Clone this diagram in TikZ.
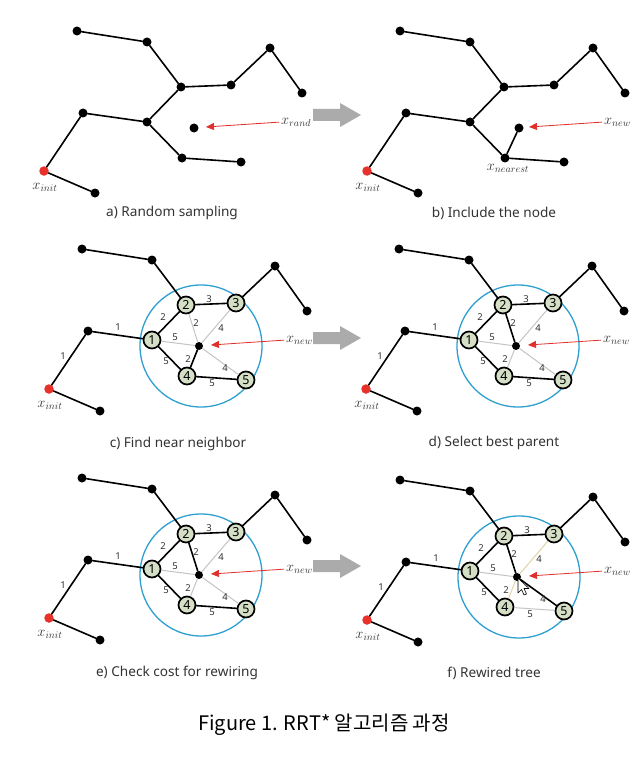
\documentclass[tikz,border=0pt]{standalone}
\usepackage{fontspec}
\setmainfont{Noto Sans}
\newfontfamily\krfont{Noto Sans CJK KR}
\usetikzlibrary{arrows.meta}
\definecolor{nodefill}{HTML}{D5DFC6}
\definecolor{rangeblue}{HTML}{2E9FD0}
\definecolor{arrowred}{HTML}{E0302C}
\definecolor{initred}{HTML}{E8312A}
\definecolor{lightedge}{HTML}{C4C4C4}
\definecolor{tanedge}{HTML}{E2D3A6}
\definecolor{bigarrow}{HTML}{ABABAB}
\definecolor{txtgray}{HTML}{333333}
\tikzset{
 dot/.style={circle,fill=black,inner sep=0pt,minimum size=9pt},
 newdot/.style={circle,fill=black,inner sep=0pt,minimum size=8pt},
 initdot/.style={circle,fill=initred,inner sep=0pt,minimum size=9.5pt},
 num/.style={circle,draw=black,line width=1.7pt,fill=nodefill,inner sep=0pt,minimum size=17pt,font=\bfseries\fontsize{12.5}{12.5}\selectfont},
 tedge/.style={line width=1.6pt,line cap=round},
 gedge/.style={line width=1pt,draw=lightedge},
 yedge/.style={line width=1pt,draw=tanedge},
 wlab/.style={inner sep=0pt,text=txtgray,font=\fontsize{9.5}{9.5}\selectfont},
 mlab/.style={inner sep=0pt,text=txtgray,font=\fontsize{14.5}{14.5}\selectfont},
 panelcap/.style={inner sep=0pt,text=txtgray,font=\fontsize{13.6}{13.6}\selectfont},
 redarrow/.style={draw=arrowred,line width=0.8pt,shorten <=2pt,-{Triangle[length=8pt,width=7pt]}},
 rangecirc/.style={circle,draw=rangeblue,line width=1.3pt,inner sep=0pt,minimum size=122pt},
 bigarr/.style={fill=bigarrow},
}
% leaves common to all panels
\newcommand\leafnodes[1]{%
 \node[dot] (#1t1) at (77,31) {};
 \node[dot] (#1t2) at (147,42) {};
 \node[dot] (#1t5) at (270,48) {};
 \node[dot] (#1t6) at (302,93) {};
 \node[dot] (#1t8) at (83,113) {};
 \node[initdot] (#1init) at (44,171) {};
 \node[dot] (#1t10) at (95,193) {};
 \node[mlab] (#1xi) at (45,187) {$x_{init}$};
}
\newcommand\plainjunctions[1]{%
 \node[dot] (#1j1) at (147,122) {};
 \node[dot] (#1j2) at (181,87) {};
 \node[dot] (#1n3) at (231,85) {};
 \node[dot] (#1n4) at (182,158) {};
 \node[dot] (#1n5) at (241,162) {};
}
\newcommand\numjunctions[1]{%
 \node[rangecirc] (#1rg) at (196,128) {};
 \node[num] (#1j1) at (147,122) {1};
 \node[num] (#1j2) at (181,87) {2};
 \node[num] (#1n3) at (231,85) {3};
 \node[num] (#1n4) at (182,158) {4};
 \node[num] (#1n5) at (241,162) {5};
}
\newcommand\treeedges[1]{%
 \draw[tedge] (#1t1) -- (#1t2);
 \draw[tedge] (#1t2) -- (#1j2);
 \draw[tedge] (#1j2) -- (#1n3);
 \draw[tedge] (#1n3) -- (#1t5);
 \draw[tedge] (#1t5) -- (#1t6);
 \draw[tedge] (#1j1) -- (#1j2);
 \draw[tedge] (#1t8) -- (#1j1);
 \draw[tedge] (#1init) -- (#1t8);
 \draw[tedge] (#1init) -- (#1t10);
 \draw[tedge] (#1j1) -- (#1n4);
}
\newcommand\weights[1]{%
 \node[wlab] (#1w1) at (113,109) {1};
 \node[wlab] (#1w2) at (58,138) {1};
 \node[wlab] (#1w3) at (158,99) {2};
 \node[wlab] (#1w4) at (204,81) {3};
 \node[wlab] (#1w5) at (191,105) {2};
 \node[wlab] (#1w6) at (216,110) {4};
 \node[wlab] (#1w7) at (170,119) {5};
 \node[wlab] (#1w8) at (183,141) {2};
 \node[wlab] (#1w9) at (220,150) {4};
 \node[wlab] (#1w10) at (161,143) {5};
 \node[wlab] (#1w11) at (207,165) {5};
}
\newcommand\pointer[2]{%
 \node[mlab,anchor=west] (#1xl) at (281,122) {#2};
 \coordinate (#1tip) at (206,127);
 \draw[redarrow] (#1xl.west) -- (#1tip);
}
\begin{document}
\begin{tikzpicture}[x=1pt,y=-1pt]
\useasboundingbox (0,0) rectangle (644,765);
\fill[white] (0,0) rectangle (644,765);

% ---------- a) ----------
\begin{scope}
 \leafnodes{a}
 \plainjunctions{a}
 \treeedges{a}
 \draw[tedge] (an4) -- (an5);
 \node[dot] (arand) at (194,128) {};
 \pointer{a}{$x_{rand}$}
\end{scope}
\node[panelcap] (capa) at (172,213) {a) Random sampling};

% ---------- b) ----------
\begin{scope}[shift={(323,0)}]
 \leafnodes{b}
 \plainjunctions{b}
 \treeedges{b}
 \draw[tedge] (bn4) -- (bn5);
 \node[dot] (bnew) at (196,128) {};
 \draw[tedge] (bn4) -- (bnew);
 \node[mlab] (bxn) at (185,168) {$x_{nearest}$};
 \pointer{b}{$x_{new}$}
\end{scope}
\node[panelcap] (capb) at (494,213) {b) Include the node};

% ---------- c) ----------
\begin{scope}[shift={(5,218)}]
 \numjunctions{c}
 \leafnodes{c}
 \node[newdot] (cnew) at (194,128) {};
 \draw[gedge] (cj1) -- (cnew);
 \draw[gedge] (cj2) -- (cnew);
 \draw[gedge] (cn3) -- (cnew);
 \draw[gedge] (cn5) -- (cnew);
 \draw[tedge] (cn4) -- (cnew);
 \treeedges{c}
 \draw[tedge] (cn4) -- (cn5);
 \weights{c}
 \pointer{c}{$x_{new}$}
\end{scope}
\node[panelcap] (capc) at (178,444) {c) Find near neighbor};

% ---------- d) ----------
\begin{scope}[shift={(322,218)}]
 \numjunctions{d}
 \leafnodes{d}
 \node[newdot] (dnew) at (194,128) {};
 \draw[gedge] (dj1) -- (dnew);
 \draw[gedge] (dn4) -- (dnew);
 \draw[gedge] (dn3) -- (dnew);
 \draw[gedge] (dn5) -- (dnew);
 \draw[tedge] (dj2) -- (dnew);
 \treeedges{d}
 \draw[tedge] (dn4) -- (dn5);
 \weights{d}
 \pointer{d}{$x_{new}$}
\end{scope}
\node[panelcap] (capd) at (494,443) {d) Select best parent};

% ---------- e) ----------
\begin{scope}[shift={(5,447)}]
 \numjunctions{e}
 \leafnodes{e}
 \node[newdot] (enew) at (194,128) {};
 \draw[gedge] (ej1) -- (enew);
 \draw[gedge] (en4) -- (enew);
 \draw[gedge] (en3) -- (enew);
 \draw[gedge] (en5) -- (enew);
 \draw[tedge] (ej2) -- (enew);
 \treeedges{e}
 \draw[tedge] (en4) -- (en5);
 \weights{e}
 \pointer{e}{$x_{new}$}
\end{scope}
\node[panelcap] (cape) at (177,673) {e) Check cost for rewiring};

% ---------- f) ----------
\begin{scope}[shift={(323,449)}]
 \numjunctions{f}
 \leafnodes{f}
 \node[newdot] (fnew) at (194,128) {};
 \draw[gedge] (fj1) -- (fnew);
 \draw[yedge] (fn4) -- (fnew);
 \draw[yedge] (fn3) -- (fnew);
 \draw[gedge] (fn4) -- (fn5);
 \draw[tedge] (fj2) -- (fnew);
 \draw[tedge] (fnew) -- (fn5);
 \treeedges{f}
 \weights{f}
 \pointer{f}{$x_{new}$}
 \filldraw[fill=white,draw=black,line width=0.6pt,line join=round]
   (195,129) -- ++(0,15) -- ++(3.5,-3.5) -- ++(2.5,5.5) -- ++(2.5,-1) -- ++(-2.5,-5.5) -- ++(5,0) -- cycle;
\end{scope}
\node[panelcap] (capf) at (494,673) {f) Rewired tree};

% ---------- big gray arrows ----------
\fill[bigarr] (313,109) -- (340,109) -- (340,103) -- (361,115) -- (340,127) -- (340,121) -- (313,121) -- cycle;
\fill[bigarr] (313,332) -- (340,332) -- (340,326) -- (361,338) -- (340,350) -- (340,344) -- (313,344) -- cycle;
\fill[bigarr] (313,560) -- (340,560) -- (340,554) -- (361,566) -- (340,578) -- (340,572) -- (313,572) -- cycle;

% ---------- caption ----------
\node[inner sep=0pt,font=\krfont\fontsize{20}{20}\selectfont] (maincap) at (324,725) {Figure 1. RRT* 알고리즘 과정};
\end{tikzpicture}
\end{document}
